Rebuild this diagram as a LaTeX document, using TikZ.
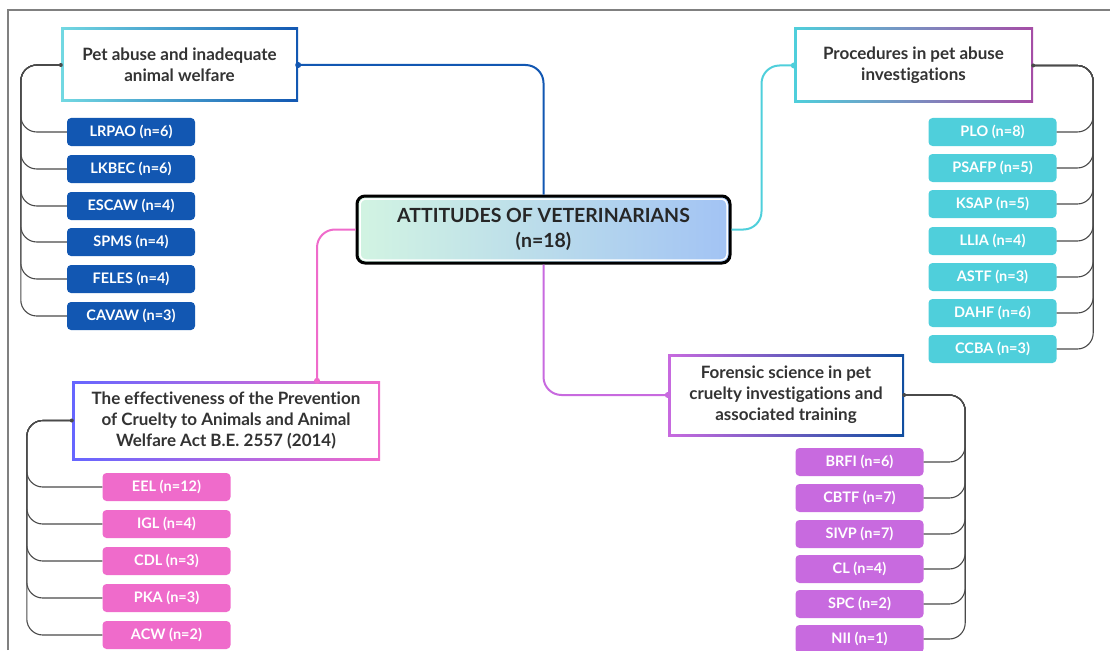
\documentclass[tikz,border=0pt]{standalone}
\usepackage{fontspec}
\setmainfont{Lato}[Ligatures=NoCommon]
\definecolor{itemblue}{HTML}{1257B2}
\definecolor{itemcyan}{HTML}{4FCFDB}
\definecolor{itempink}{HTML}{EF6BCB}
\definecolor{itempurple}{HTML}{C86ADF}
\definecolor{linegray}{HTML}{4A4A4A}
\definecolor{textgray}{HTML}{333333}
\definecolor{mint}{HTML}{D2F4E2}
\definecolor{skyblue}{HTML}{A2C3F4}
\tikzset{
  hdr/.style 2 args={left color=#1, right color=#2, text=textgray, align=center,
    inner sep=0pt, font=\fontsize{17}{21}\selectfont\bfseries,
    path picture={\fill[white] ([shift={(2.5pt,2.5pt)}]path picture bounding box.south west)
      rectangle ([shift={(-2.5pt,-2.5pt)}]path picture bounding box.north east);}},
  item/.style={fill=#1, text=white, rounded corners=4pt, minimum width=128pt,
    minimum height=28pt, inner sep=0pt, font=\fontsize{14.5}{16}\selectfont\bfseries},
  branch/.style={draw=linegray, line width=1.1pt, rounded corners=16pt},
  link/.style={draw=#1, line width=2pt, rounded corners=18pt},
}
\begin{document}
\begin{tikzpicture}[x=1pt, y=-1pt]
  \useasboundingbox (0,0) rectangle (1110,650);
  \draw [gray, line width=1.2pt] (8,650) -- (8,10) -- (1110,10);
  % centre
  \node (att) [draw=black, line width=3pt, rounded corners=8pt, left color=mint, right color=skyblue,
    minimum width=373pt, minimum height=67pt, align=center, text=black!85,
    font=\fontsize{19.5}{25}\selectfont\bfseries,
    path picture={\draw[white, line width=1.5pt, rounded corners=6pt]
      ([shift={(3pt,3pt)}]path picture bounding box.south west)
      rectangle ([shift={(-3pt,-3pt)}]path picture bounding box.north east);}]
    at (543.5,229.5) {ATTITUDES OF VETERINARIANS\\(n=18)};
  % headers
  \node (pa) [hdr={itemcyan!80}{itemblue}, minimum width=237pt, minimum height=74pt]
    at (179.5,65) {Pet abuse and inadequate\\animal welfare};
  \node (pr) [hdr={itemcyan}{violet!70}, minimum width=239pt, minimum height=75pt]
    at (913.5,65.5) {Procedures in pet abuse\\investigations};
  \node (ef) [hdr={blue!60}{itempink}, minimum width=308pt, minimum height=79pt]
    at (226,420.5) {The effectiveness of the Prevention\\of Cruelty to Animals and Animal\\Welfare Act B.E. 2557 (2014)};
  \node (fs) [hdr={itempurple}{itemblue!90!black}, minimum width=236pt, minimum height=82pt]
    at (786,395) {Forensic science in pet\\cruelty investigations and\\associated training};
  % items, top left
  \node (lrpao) [item=itemblue] at (131,132) {LRPAO (n=6)};
  \node (lkbec) [item=itemblue] at (131,169) {LKBEC (n=6)};
  \node (escaw) [item=itemblue] at (131,206) {ESCAW (n=4)};
  \node (spms) [item=itemblue] at (131,242) {SPMS (n=4)};
  \node (feles) [item=itemblue] at (131,279) {FELES (n=4)};
  \node (cavaw) [item=itemblue] at (131,316) {CAVAW (n=3)};
  % items, top right
  \node (plo) [item=itemcyan] at (992.5,132) {PLO (n=8)};
  \node (psafp) [item=itemcyan] at (992.5,168) {PSAFP (n=5)};
  \node (ksap) [item=itemcyan] at (992.5,204) {KSAP (n=5)};
  \node (llia) [item=itemcyan] at (992.5,241) {LLIA (n=4)};
  \node (astf) [item=itemcyan] at (992.5,277) {ASTF (n=3)};
  \node (dahf) [item=itemcyan] at (992.5,313) {DAHF (n=6)};
  \node (ccba) [item=itemcyan] at (992.5,349) {CCBA (n=3)};
  % items, bottom left
  \node (eel) [item=itempink] at (166.5,487) {EEL (n=12)};
  \node (igl) [item=itempink] at (166.5,524) {IGL (n=4)};
  \node (cdl) [item=itempink] at (166.5,561) {CDL (n=3)};
  \node (pka) [item=itempink] at (166.5,598) {PKA (n=3)};
  \node (acw) [item=itempink] at (166.5,635) {ACW (n=2)};
  % items, bottom right
  \node (brfi) [item=itempurple] at (859.5,462) {BRFI (n=6)};
  \node (cbtf) [item=itempurple] at (859.5,498) {CBTF (n=7)};
  \node (sivp) [item=itempurple] at (859.5,534) {SIVP (n=7)};
  \node (cl) [item=itempurple] at (859.5,569) {CL (n=4)};
  \node (spc) [item=itempurple] at (859.5,604) {SPC (n=2)};
  \node (nii) [item=itempurple] at (859.5,639) {NII (n=1)};
  % links from the centre
  \draw [link=itemblue] (pa.east) -| (att.north);
  \draw [link=itemcyan] (att.east) -- ++(30,0) |- (pr.west);
  \draw [link=itempink] (att.west) -| ([xshift=91pt]ef.north);
  \draw [link=itempurple] (att.south) |- (fs.west);
  \fill [itemblue] (pa.east) circle (3);
  \fill [itemcyan] (pr.west) circle (3);
  \fill [itempink] ([xshift=91pt]ef.north) circle (3);
  \fill [itempurple] (fs.west) circle (3);
  % brackets
  \draw [branch] (pa.west) -- ++(-40,0) |- (lrpao.west);
  \draw [branch] (pa.west) -- ++(-40,0) |- (lkbec.west);
  \draw [branch] (pa.west) -- ++(-40,0) |- (escaw.west);
  \draw [branch] (pa.west) -- ++(-40,0) |- (spms.west);
  \draw [branch] (pa.west) -- ++(-40,0) |- (feles.west);
  \draw [branch] (pa.west) -- ++(-40,0) |- (cavaw.west);
  \draw [branch] (pr.east) -- ++(60,0) |- (plo.east);
  \draw [branch] (pr.east) -- ++(60,0) |- (psafp.east);
  \draw [branch] (pr.east) -- ++(60,0) |- (ksap.east);
  \draw [branch] (pr.east) -- ++(60,0) |- (llia.east);
  \draw [branch] (pr.east) -- ++(60,0) |- (astf.east);
  \draw [branch] (pr.east) -- ++(60,0) |- (dahf.east);
  \draw [branch] (pr.east) -- ++(60,0) |- (ccba.east);
  \draw [branch] (ef.west) -- ++(-45,0) |- (eel.west);
  \draw [branch] (ef.west) -- ++(-45,0) |- (igl.west);
  \draw [branch] (ef.west) -- ++(-45,0) |- (cdl.west);
  \draw [branch] (ef.west) -- ++(-45,0) |- (pka.west);
  \draw [branch] (ef.west) -- ++(-45,0) |- (acw.west);
  \draw [branch] (fs.east) -- ++(61,0) |- (brfi.east);
  \draw [branch] (fs.east) -- ++(61,0) |- (cbtf.east);
  \draw [branch] (fs.east) -- ++(61,0) |- (sivp.east);
  \draw [branch] (fs.east) -- ++(61,0) |- (cl.east);
  \draw [branch] (fs.east) -- ++(61,0) |- (spc.east);
  \draw [branch] (fs.east) -- ++(61,0) |- (nii.east);
  \fill [linegray] (pa.west) circle (2);
  \fill [linegray] (pr.east) circle (2);
  \fill [linegray] (ef.west) circle (2);
  \fill [linegray] (fs.east) circle (2);
\end{tikzpicture}
\end{document}
